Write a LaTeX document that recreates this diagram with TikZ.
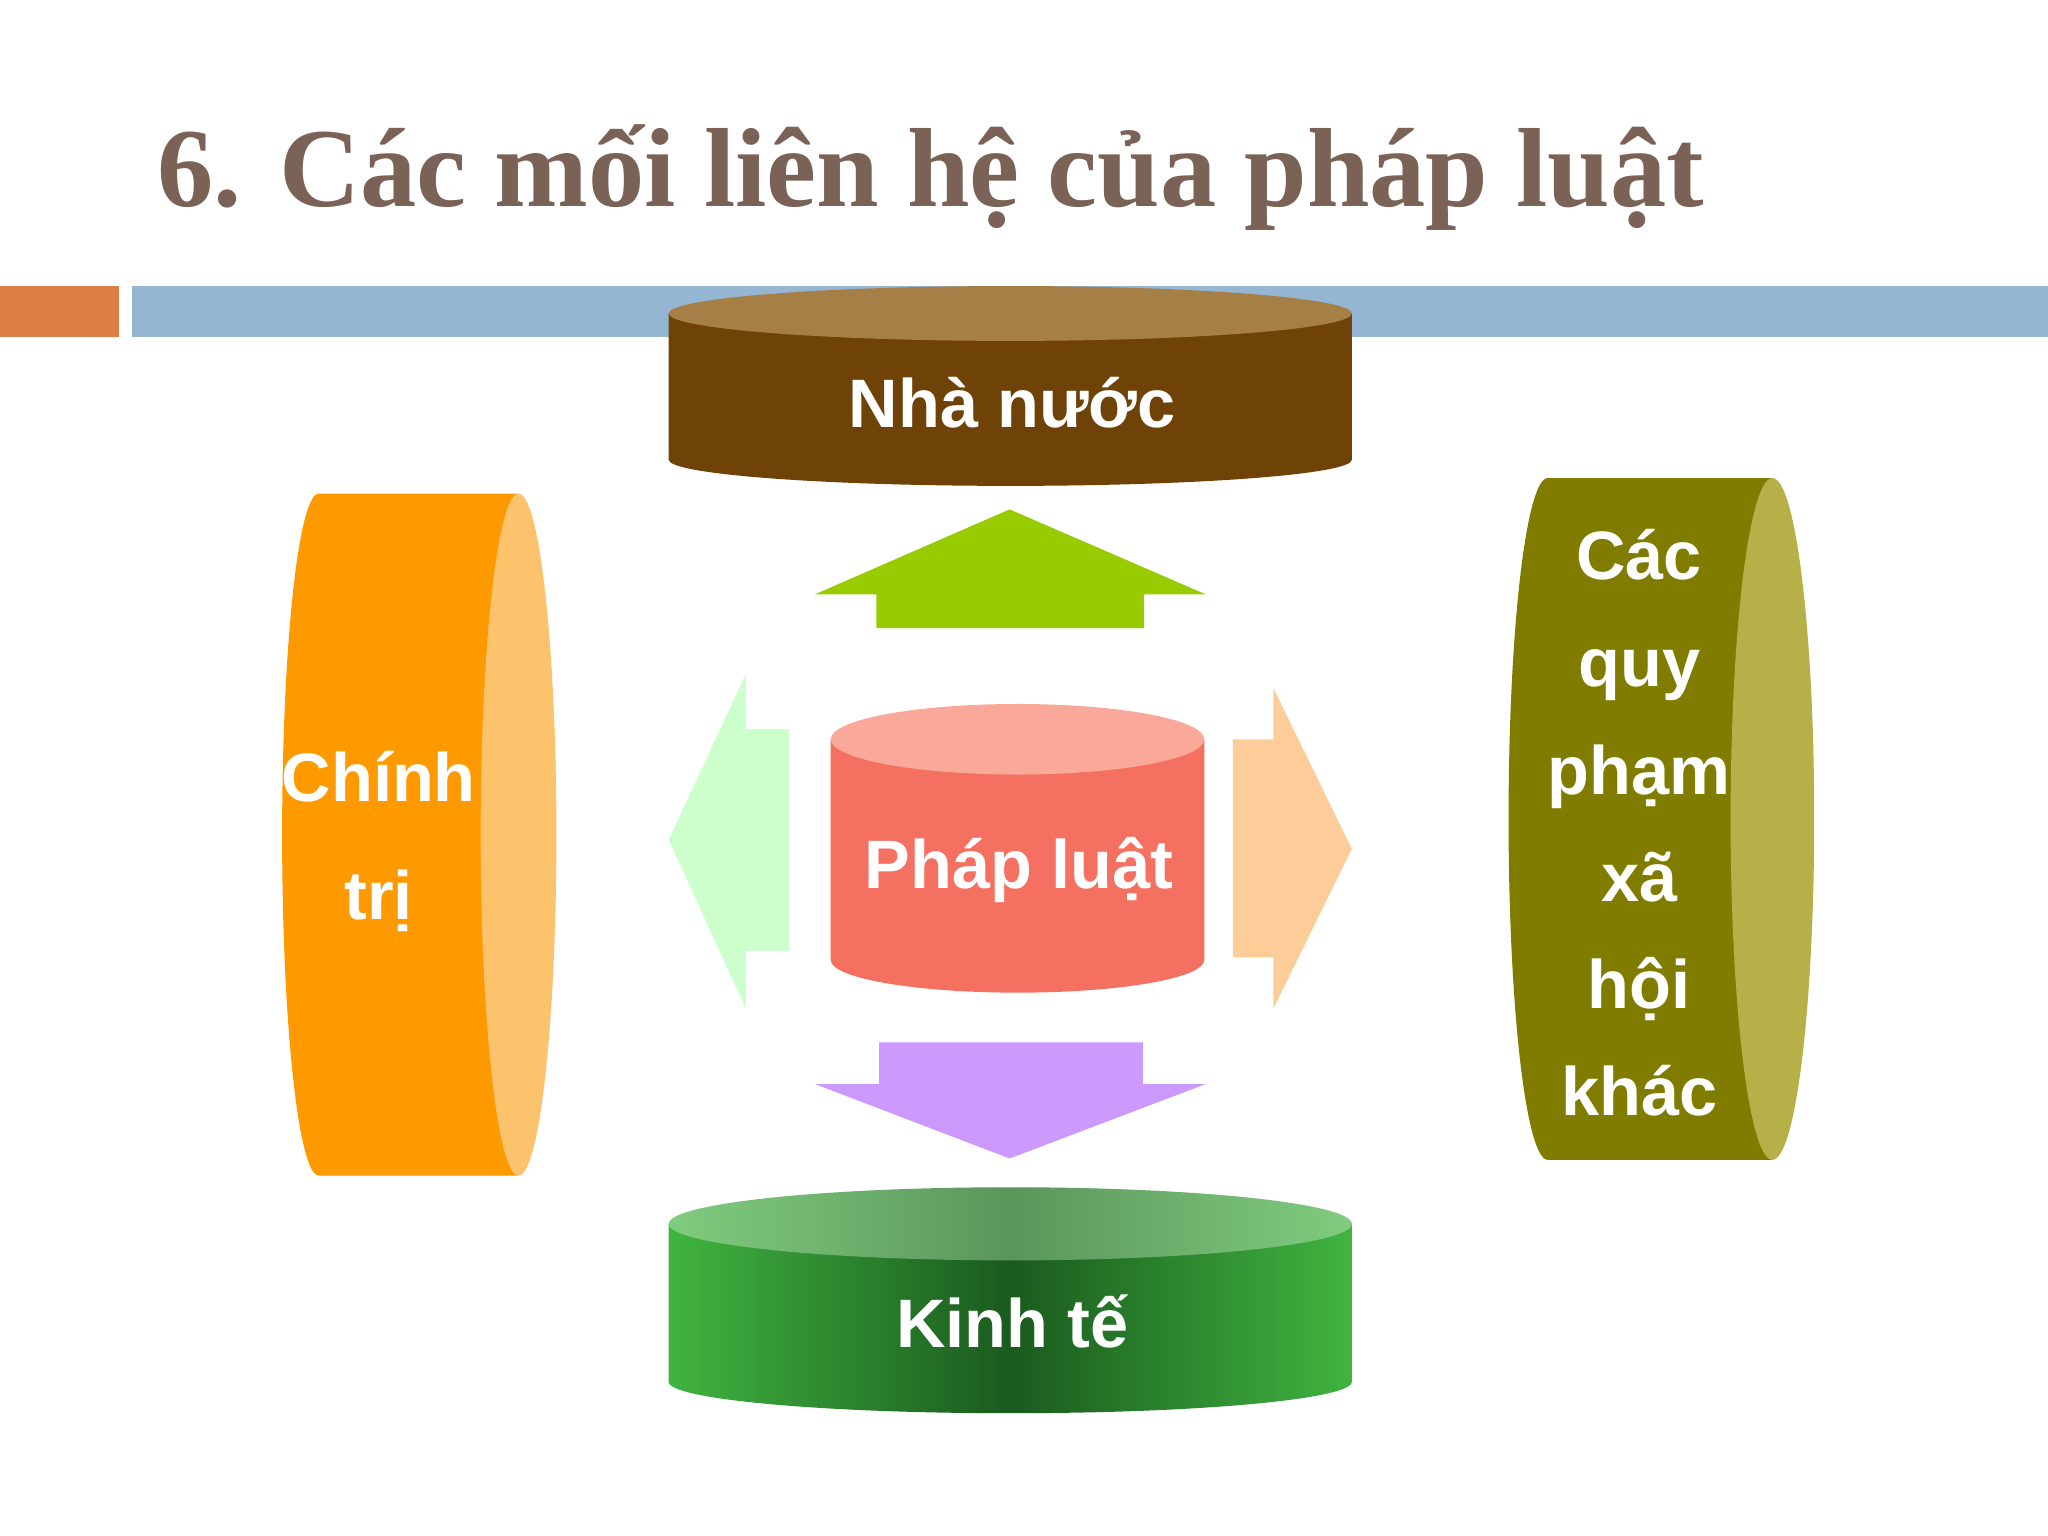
\documentclass[tikz,border=0pt]{standalone}
\usepackage{fontspec}
\setmainfont{Liberation Serif}
\setsansfont{Liberation Sans}
\begin{document}
\begin{tikzpicture}[x=0.013061cm,y=-0.013061cm,
  lbl/.style={font=\sffamily\bfseries\fontsize{19.5}{23}\selectfont,text=white},
  ttl/.style={font=\bfseries\fontsize{32}{36}\selectfont,text=title}]
\definecolor{title}{HTML}{7A6256}
\useasboundingbox (0,0) rectangle (1568,1176);
\fill[white] (0,0) rectangle (1568,1176);
\node[ttl,anchor=base west,inner sep=0pt] (t) at (120,158) {6. Các mối liên hệ của pháp luật};
\fill[color={rgb,255:red,221;green,128;blue,71}] (0,219) rectangle (91,258);
\fill[color={rgb,255:red,148;green,182;blue,210}] (101,219) rectangle (1568,258);
% Nha nuoc
\fill[color={rgb,255:red,111;green,66;blue,7}] (512,240) -- (512,352) arc[start angle=180,end angle=0,x radius=261.5,y radius=20] -- (1035,240) -- cycle;
\fill[color={rgb,255:red,165;green,127;blue,70}] (773.5,240) ellipse[x radius=261.5,y radius=21];
\node[lbl] (nn) at (775,308) {Nhà nước};
% Kinh te
\shade[left color={rgb,255:red,64;green,180;blue,64},right color={rgb,255:red,64;green,180;blue,64},middle color={rgb,255:red,26;green,90;blue,30}] (512,937) -- (512,1058) arc[start angle=180,end angle=0,x radius=261.5,y radius=24] -- (1035,937) -- cycle;
\shade[left color={rgb,255:red,128;green,204;blue,128},right color={rgb,255:red,128;green,204;blue,128},middle color={rgb,255:red,90;green,150;blue,90}] (773.5,937) ellipse[x radius=261.5,y radius=28];
\node[lbl] (kt) at (775,1012) {Kinh tế};
% Phap luat
\fill[color={rgb,255:red,244;green,112;blue,96}] (636,566) -- (636,735) arc[start angle=180,end angle=0,x radius=143,y radius=25] -- (922,566) -- cycle;
\fill[color={rgb,255:red,249;green,168;blue,154}] (779,566) ellipse[x radius=143,y radius=27];
\node[lbl] (pl) at (780,666) {Pháp luật};
% Chinh tri
\fill[color={rgb,255:red,255;green,153;blue,0}] (244,378) arc[start angle=270,end angle=90,x radius=28,y radius=261] -- (397,900) -- (397,378) -- cycle;
\fill[color={rgb,255:red,253;green,194;blue,108}] (397,639) ellipse[x radius=29,y radius=261];
\node[lbl] (ct1) at (290,595) {Chính};
\node[lbl] (ct2) at (290,690) {trị};
% Cac quy pham
\fill[color={rgb,255:red,127;green,124;blue,0}] (1185,366) arc[start angle=270,end angle=90,x radius=30,y radius=261] -- (1357,888) -- (1357,366) -- cycle;
\fill[color={rgb,255:red,181;green,176;blue,72}] (1357,627) ellipse[x radius=32,y radius=261];
\node[lbl,align=center,font=\sffamily\bfseries\fontsize{19.5}{30.5}\selectfont] (qp) at (1255,630) {Các\\quy\\phạm\\xã\\hội\\khác};
% arrows
\fill[color={rgb,255:red,153;green,204;blue,0}] (624,455) -- (773,390) -- (923,455) -- (876,455) -- (876,481) -- (671,481) -- (671,455) -- cycle;
\fill[color={rgb,255:red,204;green,153;blue,255}] (673,798) -- (875,798) -- (875,830) -- (923,830) -- (773,887) -- (624,830) -- (673,830) -- cycle;
\fill[color={rgb,255:red,204;green,255;blue,204}] (571,516) -- (571,558) -- (604,558) -- (604,728) -- (571,728) -- (571,772) -- (512,643) -- cycle;
\fill[color={rgb,255:red,252;green,204;blue,153}] (975,527) -- (1035,650) -- (975,772) -- (975,733) -- (944,733) -- (944,566) -- (975,566) -- cycle;
\end{tikzpicture}
\end{document}
